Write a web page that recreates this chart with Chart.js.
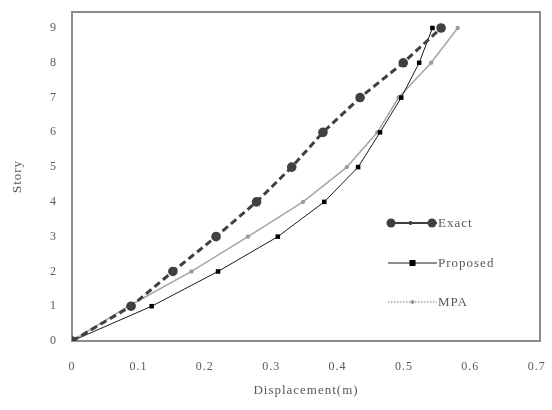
<!DOCTYPE html>
<html>
<head>
<meta charset="utf-8">
<script src="https://cdn.jsdelivr.net/npm/chart.js@4/dist/chart.umd.min.js"></script>
<style>
  html, body { margin: 0; padding: 0; background: #ffffff; }
  #wrap { width: 552px; height: 410px; }
</style>
</head>
<body>
<div id="wrap"><canvas id="c" width="552" height="410"></canvas></div>
<script>
// Story levels (y) and peak displacement per story (x, metres)
const stories = [0, 1, 2, 3, 4, 5, 6, 7, 8, 9];
const exactDisp    = [0, 0.089, 0.152, 0.217, 0.278, 0.331, 0.378, 0.434, 0.499, 0.556];
const proposedDisp = [0, 0.120, 0.220, 0.310, 0.380, 0.431, 0.464, 0.496, 0.523, 0.543];
const mpaDisp      = [0, 0.085, 0.180, 0.265, 0.348, 0.414, 0.460, 0.492, 0.541, 0.581];
const seriesNames  = ['Exact', 'Proposed', 'MPA'];

const xTicks = [0, 0.1, 0.2, 0.3, 0.4, 0.5, 0.6, 0.7];
const yTicks = [0, 1, 2, 3, 4, 5, 6, 7, 8, 9];

const toPoints = (xs) => xs.map((x, i) => ({ x: x, y: stories[i] }));

const TEXT = '#595959';
const FONT = "'Liberation Serif', 'DejaVu Serif', serif";

// Plot frame drawn under the series
const framePlugin = {
  id: 'frame',
  beforeDraw(chart) {
    chart.ctx.letterSpacing = '1px';
  },
  beforeDatasetsDraw(chart) {
    const { ctx, chartArea: a } = chart;
    ctx.save();
    ctx.strokeStyle = '#8c8c8c';
    ctx.lineWidth = 2;
    ctx.strokeRect(a.left, a.top, a.right - a.left, a.bottom - a.top);
    ctx.restore();
  }
};

// Legend sitting inside the plot area, sample line with marker and label
const legendPlugin = {
  id: 'insideLegend',
  afterDatasetsDraw(chart) {
    const { ctx, chartArea: a } = chart;
    const x0 = a.right - 152, x1 = a.right - 103;
    const rows = [a.top + 211, a.top + 251, a.top + 290];
    ctx.save();
    ctx.letterSpacing = '1px';
    chart.data.datasets.forEach((ds, i) => {
      const y = rows[i];
      const mid = (x0 + x1) / 2;
      ctx.strokeStyle = ds.borderColor;
      ctx.lineWidth = i === 0 ? 2 : (i === 1 ? 1 : 1.5);
      ctx.setLineDash(i === 2 ? [1.5, 1.5] : []);
      ctx.beginPath();
      ctx.moveTo(x0, y);
      ctx.lineTo(x1, y);
      ctx.stroke();
      ctx.setLineDash([]);
      ctx.fillStyle = ds.pointBackgroundColor;
      if (i === 0) {
        [x0 + 3, x1 - 5].forEach((px) => {
          ctx.beginPath();
          ctx.arc(px, y, 4.5, 0, Math.PI * 2);
          ctx.fill();
        });
        ctx.beginPath();
        ctx.arc(mid - 2, y, 2, 0, Math.PI * 2);
        ctx.fill();
      } else if (i === 1) {
        ctx.fillRect(mid - 3, y - 3, 6, 6);
      } else {
        ctx.beginPath();
        ctx.arc(mid, y, 2, 0, Math.PI * 2);
        ctx.fill();
      }
      ctx.fillStyle = TEXT;
      ctx.font = '13px ' + FONT;
      ctx.textBaseline = 'middle';
      ctx.textAlign = 'left';
      ctx.fillText(ds.label, x1 + 1, y + 1);
    });
    ctx.restore();
  }
};

new Chart(document.getElementById('c'), {
  type: 'line',
  data: {
    datasets: [
      {
        label: seriesNames[0],
        data: toPoints(exactDisp),
        borderColor: '#404040',
        borderWidth: 3,
        borderDash: [7, 4],
        pointStyle: 'circle',
        pointRadius: 4.8,
        pointBackgroundColor: '#404040',
        pointBorderColor: '#404040',
        pointBorderWidth: 0,
        fill: false,
        tension: 0
      },
      {
        label: seriesNames[1],
        data: toPoints(proposedDisp),
        borderColor: '#1a1a1a',
        borderWidth: 1,
        pointStyle: 'rect',
        pointRadius: 3.2,
        pointBackgroundColor: '#000000',
        pointBorderColor: '#000000',
        pointBorderWidth: 0,
        fill: false,
        tension: 0
      },
      {
        label: seriesNames[2],
        data: toPoints(mpaDisp),
        borderColor: '#a6a6a6',
        borderWidth: 1.5,
        pointStyle: 'circle',
        pointRadius: 2.2,
        pointBackgroundColor: '#9a9a9a',
        pointBorderColor: '#9a9a9a',
        pointBorderWidth: 0,
        fill: false,
        tension: 0
      }
    ]
  },
  options: {
    responsive: false,
    animation: false,
    devicePixelRatio: 1,
    layout: { padding: { top: 12, right: 12, left: 0, bottom: 0 } },
    plugins: {
      legend: { display: false },
      tooltip: { enabled: false }
    },
    scales: {
      x: {
        type: 'linear',
        min: 0,
        max: 0.705,
        afterBuildTicks(scale) { scale.ticks = xTicks.map((v) => ({ value: v })); },
        afterFit(scale) {
          scale.height = 69;
          scale.paddingLeft = 0;
          scale.paddingRight = 0;
        },
        grid: { display: false, drawTicks: false },
        border: { display: true, color: '#8c8c8c', width: 2 },
        ticks: {
          padding: 19,
          color: TEXT,
          font: { family: FONT, size: 12 },
          callback: (v) => (v === 0 ? '0' : Number(v).toFixed(1))
        },
        title: {
          display: true,
          text: 'Displacement(m)',
          color: TEXT,
          font: { family: FONT, size: 13 },
          padding: { top: 0, bottom: 12 }
        }
      },
      y: {
        type: 'linear',
        min: 0,
        max: 9.46,
        afterBuildTicks(scale) { scale.ticks = yTicks.map((v) => ({ value: v })); },
        afterFit(scale) {
          scale.width = 72;
          scale.paddingTop = 0;
          scale.paddingBottom = 0;
        },
        grid: { display: false, drawTicks: false },
        border: { display: true, color: '#8c8c8c', width: 2 },
        ticks: {
          padding: 15,
          color: TEXT,
          font: { family: FONT, size: 12 }
        },
        title: {
          display: true,
          text: 'Story',
          color: TEXT,
          font: { family: FONT, size: 13 },
          padding: { top: 10, bottom: 0 }
        }
      }
    }
  },
  plugins: [framePlugin, legendPlugin]
});
</script>
</body>
</html>
